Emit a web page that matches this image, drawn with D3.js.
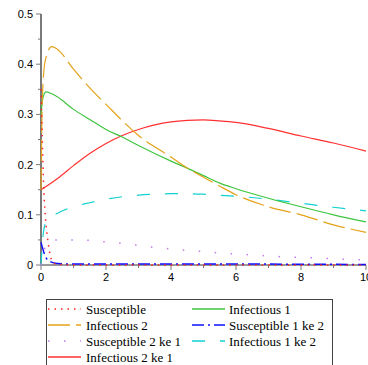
<!DOCTYPE html>
<html>
<head>
<meta charset="utf-8">
<script src="https://cdn.jsdelivr.net/npm/d3@7"></script>
<style>
  body { margin: 0; background: #fff; }
  svg { display: block; }
  .tick-label { font-family: "Liberation Sans", Arial, sans-serif; font-size: 11px; fill: #000; }
  .legend text { font-family: "Liberation Serif", "Times New Roman", serif; font-size: 13px; fill: #000; }
</style>
</head>
<body>
<svg></svg>
<script>
const size = { w: 368, h: 365 };
const svg = d3.select("svg").attr("width", size.w).attr("height", size.h);

// ---- data ----
const susceptible = [[0, 0.35], [0.04, 0.25], [0.08, 0.16], [0.12, 0.11], [0.17, 0.07], [0.22, 0.044], [0.28, 0.02], [0.33, 0.009], [0.4, 0.003], [0.6, 0.001], [1, 0], [10, 0]];
const infectious1 = [[0, 0.30], [0.05, 0.33], [0.15, 0.345], [0.3, 0.342], [0.5, 0.335], [1, 0.31], [1.5, 0.29], [2, 0.27], [2.5, 0.255], [3, 0.238], [4, 0.207], [4.5, 0.193], [5, 0.178], [5.5, 0.163], [6, 0.152], [7, 0.133], [8, 0.116], [9, 0.1], [10, 0.086]];
const infectious2 = [[0, 0.15], [0.03, 0.3], [0.06, 0.36], [0.14, 0.41], [0.33, 0.435], [0.5, 0.43], [1, 0.39], [1.5, 0.353], [2, 0.32], [3, 0.258], [4, 0.215], [4.5, 0.193], [5, 0.175], [5.5, 0.157], [6, 0.14], [7, 0.116], [8, 0.1], [9, 0.08], [10, 0.065]];
const susceptible1ke2 = [[0, 0.045], [0.15, 0.015], [0.28, 0.007], [0.5, 0.003], [1, 0.002], [5, 0.002], [10, 0.001]];
const susceptible2ke1 = [[0, 0], [0.1, 0.03], [0.2, 0.045], [0.4, 0.05], [1, 0.05], [1.5, 0.049], [2, 0.046], [2.5, 0.043], [3, 0.039], [3.5, 0.035], [4, 0.032], [4.5, 0.029], [5, 0.027], [5.5, 0.024], [6, 0.022], [6.5, 0.02], [7, 0.018], [7.5, 0.016], [8, 0.015], [8.5, 0.014], [9, 0.0125], [9.5, 0.011], [10, 0.01]];
const infectious1ke2 = [[0, 0], [0.05, 0.05], [0.1, 0.075], [0.2, 0.09], [0.3, 0.095], [0.6, 0.106], [1, 0.116], [1.5, 0.124], [2, 0.131], [2.5, 0.136], [3, 0.139], [3.5, 0.141], [4, 0.142], [4.5, 0.142], [5, 0.141], [5.5, 0.139], [6, 0.137], [7, 0.131], [8, 0.123], [9, 0.115], [10, 0.108]];
const infectious2ke1 = [[0, 0.15], [0.5, 0.172], [1, 0.198], [1.5, 0.222], [2, 0.242], [2.5, 0.258], [3, 0.27], [3.5, 0.279], [4, 0.285], [4.5, 0.288], [5, 0.289], [5.5, 0.287], [6, 0.284], [7, 0.272], [8, 0.257], [9, 0.243], [10, 0.227]];

const xTicks = [0, 2, 4, 6, 8, 10];
const yTicks = [0, 0.1, 0.2, 0.3, 0.4, 0.5];

const series = [
  { name: "Susceptible", data: susceptible, color: "#ff2020", dash: "1.5,5", width: 1.5 },
  { name: "Infectious 1", data: infectious1, color: "#3ec43e", dash: null, width: 1.2 },
  { name: "Infectious 2", data: infectious2, color: "#e3a21a", dash: "22,6", width: 1.2 },
  { name: "Susceptible 1 ke 2", data: susceptible1ke2, color: "#1010ff", dash: "12,4,2,4", width: 1.5 },
  { name: "Susceptible 2 ke 1", data: susceptible2ke1, color: "#c878e8", dash: "1.5,14.5", width: 1.5 },
  { name: "Infectious 1 ke 2", data: infectious1ke2, color: "#10d0d0", dash: "13,15", width: 1.2 },
  { name: "Infectious 2 ke 1", data: infectious2ke1, color: "#ff3030", dash: null, width: 1.2 }
];

const x = d3.scaleLinear().domain([0, 10]).range([41, 366]);
const y = d3.scaleLinear().domain([0, 0.5]).range([265, 14]);

// ---- axes ----
const axisG = svg.append("g").attr("stroke", "#7a7a7a");
axisG.append("line").attr("x1", x(0)).attr("x2", x(0)).attr("y1", y(0.5)).attr("y2", y(0)).attr("stroke-width", 2);
axisG.append("line").attr("x1", x(0)).attr("x2", x(10)).attr("y1", y(0)).attr("y2", y(0)).attr("stroke-width", 1.5);

axisG.selectAll(".ytick").data(d3.range(0, 0.501, 0.05)).join("line")
  .attr("x1", x(0)).attr("x2", (d, i) => x(0) - (i % 2 ? 3 : 5))
  .attr("y1", d => y(d)).attr("y2", d => y(d)).attr("stroke-width", 1);
axisG.selectAll(".xtick").data(d3.range(0, 10.01, 1)).join("line")
  .attr("y1", y(0)).attr("y2", (d, i) => y(0) + (i % 2 ? 3 : 5))
  .attr("x1", d => x(d)).attr("x2", d => x(d)).attr("stroke-width", 1);

svg.selectAll(".ylab").data(yTicks).join("text").attr("class", "tick-label")
  .attr("x", 33).attr("y", d => y(d) + 4).attr("text-anchor", "end")
  .text(d => d === 0 ? "0" : d3.format(".1f")(d));
svg.selectAll(".xlab").data(xTicks).join("text").attr("class", "tick-label")
  .attr("x", d => x(d)).attr("y", 281).attr("text-anchor", "middle")
  .text(d => d);

// ---- curves ----
const line = d3.line().x(d => x(d[0])).y(d => y(d[1])).curve(d3.curveMonotoneX);
const drawOrder = [6, 5, 4, 3, 1, 2, 0];
svg.append("g").selectAll("path").data(drawOrder.map(i => series[i])).join("path")
  .attr("d", d => line(d.data))
  .attr("fill", "none")
  .attr("stroke", d => d.color)
  .attr("stroke-width", d => d.width)
  .attr("stroke-dasharray", d => d.dash);

// ---- legend ----
const legend = svg.append("g").attr("class", "legend");
legend.append("rect").attr("x", 46.5).attr("y", 299.5).attr("width", 286).attr("height", 80)
  .attr("fill", "#fff").attr("stroke", "#444").attr("stroke-width", 1);

const cols = [{ lx: 48, tx: 86 }, { lx: 192, tx: 229 }];
const items = legend.selectAll("g.item").data(series).join("g").attr("class", "item")
  .attr("transform", (d, i) => {
    const c = i === 6 ? 0 : i % 2;
    const r = i === 6 ? 3 : Math.floor(i / 2);
    return `translate(${cols[c].lx},${309 + r * 16})`;
  });
items.append("line").attr("x1", 0).attr("x2", 33).attr("y1", 0).attr("y2", 0)
  .attr("stroke", d => d.color).attr("stroke-width", 1.3)
  .attr("stroke-dasharray", d => d.dash);
items.append("text").attr("x", (d, i) => (i === 6 || i % 2 === 0) ? 38 : 37).attr("y", 4.5)
  .text(d => d.name);
</script>
</body>
</html>
